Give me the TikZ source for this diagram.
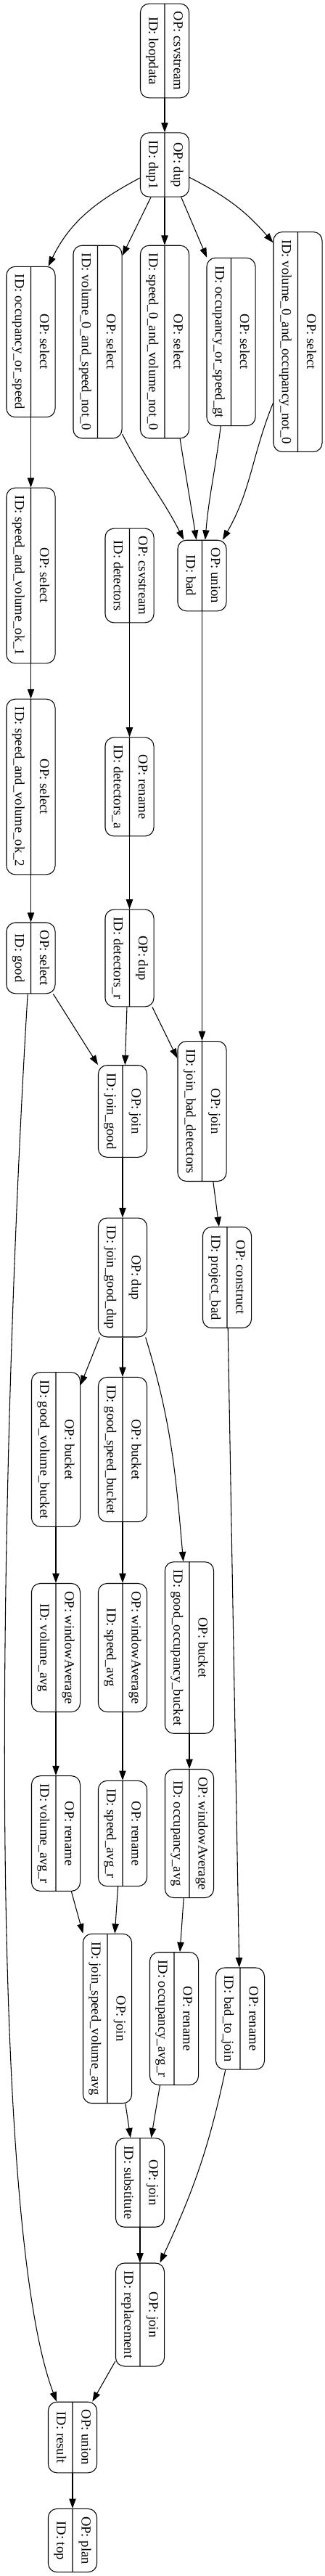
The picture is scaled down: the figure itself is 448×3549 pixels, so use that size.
\documentclass[tikz,border=0pt]{standalone}
\usepackage{fontspec}
\setmainfont{Liberation Serif}
\usepackage{graphicx}
\usetikzlibrary{shapes.multipart,arrows.meta}
\newcommand{\fields}[2]{\rotatebox{-90}{ID: #2\strut}\nodepart{two}\rotatebox{-90}{OP: #1\strut}}
\begin{document}
\begin{tikzpicture}[x=0.75pt,y=0.75pt,font=\fontsize{14}{17}\selectfont,line width=0.8pt,
	>={Triangle[length=10pt,width=7pt]},
	rec/.style={draw,rounded corners=9pt,rectangle split,rectangle split horizontal,
		rectangle split parts=2,inner xsep=3.875pt,inner ysep=8pt}]
		\useasboundingbox (0,0) rectangle (448,-3549);
		\node[rec] (1) at (227,-70) {\fields{csvstream}{loopdata}};
		\node[rec] (2) at (227,-227) {\fields{dup}{dup1}};
		\node[rec] (3) at (42.5,-471) {\fields{select}{occupancy\_or\_speed}};
		\node[rec] (4) at (134.5,-471) {\fields{select}{volume\_0\_and\_speed\_not\_0}};
		\node[rec] (5) at (227,-471) {\fields{select}{speed\_0\_and\_volume\_not\_0}};
		\node[rec] (6) at (318.5,-471) {\fields{select}{occupancy\_or\_speed\_gt}};
		\node[rec] (7) at (410.5,-471) {\fields{select}{volume\_0\_and\_occupancy\_not\_0}};
		\node[rec] (8) at (42.5,-793) {\fields{select}{speed\_and\_volume\_ok\_1}};
		\node[rec] (9) at (178.5,-793) {\fields{csvstream}{detectors}};
		\node[rec] (10) at (278.5,-793) {\fields{union}{bad}};
		\node[rec] (11) at (42.5,-1084) {\fields{select}{speed\_and\_volume\_ok\_2}};
		\node[rec] (12) at (178.5,-1084) {\fields{rename}{detectors\_a}};
		\node[rec] (13) at (42.5,-1320) {\fields{select}{good}};
		\node[rec] (14) at (178.5,-1320) {\fields{dup}{detectors\_r}};
		\node[rec] (15) at (169,-1531) {\fields{join}{join\_good}};
		\node[rec] (16) at (278.5,-1531) {\fields{join}{join\_bad\_detectors}};
		\node[rec] (17) at (169,-1760) {\fields{dup}{join\_good\_dup}};
		\node[rec] (18) at (313,-1760) {\fields{construct}{project\_bad}};
		\node[rec] (19) at (77,-1997) {\fields{bucket}{good\_volume\_bucket}};
		\node[rec] (20) at (169,-1997) {\fields{bucket}{good\_speed\_bucket}};
		\node[rec] (21) at (261,-2270) {\fields{bucket}{good\_occupancy\_bucket}};
		\node[rec] (22) at (77,-2270) {\fields{windowAverage}{volume\_avg}};
		\node[rec] (23) at (169,-2270) {\fields{windowAverage}{speed\_avg}};
		\node[rec] (24) at (261,-2526) {\fields{windowAverage}{occupancy\_avg}};
		\node[rec] (25) at (77,-2526) {\fields{rename}{volume\_avg\_r}};
		\node[rec] (26) at (169,-2526) {\fields{rename}{speed\_avg\_r}};
		\node[rec] (27) at (148,-2781) {\fields{join}{join\_speed\_volume\_avg}};
		\node[rec] (28) at (240,-2781) {\fields{rename}{occupancy\_avg\_r}};
		\node[rec] (29) at (331,-2781) {\fields{rename}{bad\_to\_join}};
		\node[rec] (30) at (193,-3007) {\fields{join}{substitute}};
		\node[rec] (31) at (193,-3189) {\fields{join}{replacement}};
		\node[rec] (32) at (100,-3358) {\fields{union}{result}};
		\node[rec] (33) at (100,-3500) {\fields{plan}{top}};
		\draw[->] (1) -- (2);
		\draw[->] (2) to[out=208,in=64] (3.77);
		\draw[->] (2.247) -- (4.74);
		\draw[->] (2) -- (5);
		\draw[->] (2.-63) -- (6.106);
		\draw[->] (2) to[out=-27,in=131] (7.104);
		\draw[->] (3) -- (8);
		\draw[->] (4.-75) to[out=-63,in=117] (10);
		\draw[->] (5) to[out=-81,in=99] (10);
		\draw[->] (6) to[out=-97,in=85] (10);
		\draw[->] (7) to[out=-112,in=60] (10);
		\draw[->] (8) -- (11);
		\draw[->] (9) -- (12);
		\draw[->] (10) -- (16);
		\draw[->] (11) -- (13);
		\draw[->] (12) -- (14);
		\draw[->] (13.-58) -- (15.118);
		\draw[->] (13.-95) .. controls (0,-2000) and (-20,-3050) .. (32.114);
		\draw[->] (14.-93) -- (15.87);
		\draw[->] (14.-65) -- (16.115);
		\draw[->] (15) -- (17);
		\draw[->] (16.-81) -- (18.99);
		\draw[->] (17.-111) -- (19.69);
		\draw[->] (17) -- (20);
		\draw[->] (17.-69) to[out=-73,in=95] (21.94);
		\draw[->] (18) -- (29);
		\draw[->] (19) -- (22);
		\draw[->] (20) -- (23);
		\draw[->] (21) -- (24);
		\draw[->] (22) -- (25);
		\draw[->] (23) -- (26);
		\draw[->] (24.-95) -- (28.85);
		\draw[->] (25.-75) -- (27.106);
		\draw[->] (26.-95) -- (27.85);
		\draw[->] (27.-78) -- (30.102);
		\draw[->] (28.-102) -- (30.76);
		\draw[->] (29.-106) to[out=-102,in=65] (31.69);
		\draw[->] (30) -- (31);
		\draw[->] (31.-118) -- (32.61);
		\draw[->] (32) -- (33);
	\end{tikzpicture}
\end{document}
